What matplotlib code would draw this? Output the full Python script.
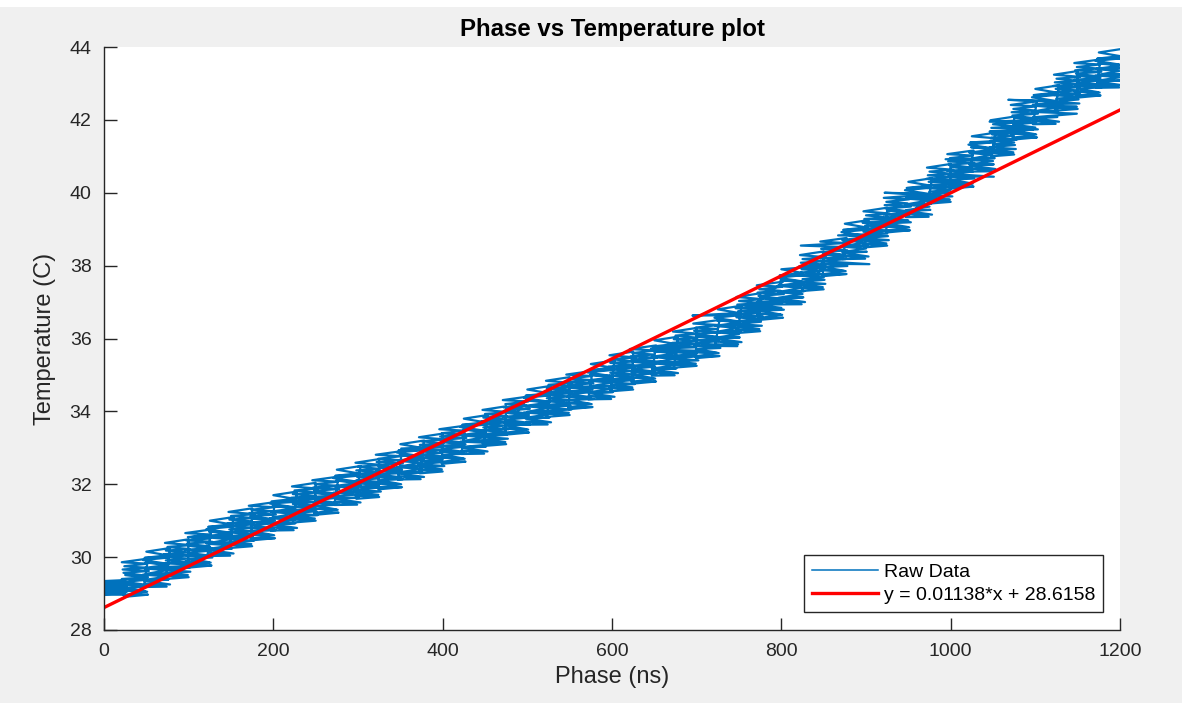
import numpy as np
import matplotlib
matplotlib.use("Agg")
import matplotlib.pyplot as plt
from matplotlib.patches import Rectangle

plt.rcParams['font.family'] = ['Liberation Sans', 'DejaVu Sans']

# Centre of each temperature step: phase (ns) and temperature (C)
step_phase = [12, 37, 62, 87, 112, 137, 162, 187, 212, 237, 262, 287,
              312, 337, 362, 387, 412, 437, 462, 487, 512, 537, 562, 587,
              612, 637, 662, 687, 712, 737, 762, 787, 812, 837, 862, 887,
              912, 937, 962, 987, 1012, 1037, 1062, 1087, 1112, 1137, 1162, 1187]
step_temp = [29.17, 29.45, 29.70, 29.95, 30.25, 30.55, 30.80, 31.00, 31.25, 31.50, 31.70, 31.95,
             32.15, 32.40, 32.65, 32.85, 33.10, 33.35, 33.60, 33.90, 34.15, 34.40, 34.60, 34.85,
             35.10, 35.30, 35.50, 35.75, 36.00, 36.35, 36.70, 37.05, 37.45, 37.85, 38.25, 38.70,
             39.05, 39.45, 39.85, 40.25, 40.65, 41.10, 41.55, 42.00, 42.40, 42.80, 43.15, 43.40]

# Sample sequences recorded within a step: phase jitter (ns), temperature drift (0.01 C)
block_phase = [
    [-14, 13, -15, 12, -13, 15, -16, 14, -12, 13, -15, 16, -14, 12, -13, 15, -16, 13, -14, 14, -12, 16, -15, 13],
    [-13, 15, -14, 14, -16, 12, -12, 16, -15, 13, -13, 14, -16, 15, -12, 13, -14, 16, -15, 12, -13, 14, -16, 15],
    [-15, 12, -13, 16, -14, 14, -15, 13, -16, 15, -12, 12, -14, 16, -15, 14, -13, 12, -16, 15, -14, 13, -12, 16],
]
block_temp = [
    [-55, -50, -46, -44, -38, -35, -30, -24, -22, -17, -12, -9, -4, 1, 5, 10, 13, 18, 23, 27, 33, 38, 44, 54],
    [-54, -48, -49, -40, -37, -39, -29, -26, -20, -21, -13, -7, -5, 0, 6, 4, 12, 17, 21, 26, 30, 37, 41, 51],
    [-52, -51, -43, -45, -35, -32, -33, -23, -18, -15, -16, -6, -1, 2, 0, 9, 15, 12, 22, 29, 28, 35, 45, 55],
]
# The first step of the record settles over a narrower range
first_block_temp = [-21, -19, -17, -18, -14, -12, -13, -9, -7, -8, -5, -3,
                    -2, 0, 1, 3, 5, 4, 8, 10, 12, 14, 17, 20]

# Outlying samples: (step, sample, phase jitter in ns)
spikes = [(3, 9, 30), (5, 14, -34), (8, 19, 28), (11, 6, -38), (13, 11, 31), (15, 16, -36),
          (17, 7, 33), (20, 0, -35), (21, 19, 29), (23, 8, -37), (25, 15, 32), (27, 12, -40),
          (28, 9, 36), (29, 20, -42), (30, 15, 38), (32, 0, -44), (32, 23, 40), (34, 9, 42),
          (34, 20, -39), (36, 8, -45), (36, 17, 37), (37, 23, 41), (38, 16, -40), (39, 4, -38),
          (39, 13, 36), (40, 9, 39), (41, 8, -43), (41, 21, 38), (42, 17, 35), (43, 12, -41),
          (44, 7, 37), (44, 16, -44), (45, 4, -40), (46, 9, 34), (47, 2, -30)]

# Linear fit coefficients
fit_slope = 0.01138
fit_intercept = 28.6158

x_ticks = [0, 200, 400, 600, 800, 1000, 1200]
y_ticks = [28, 30, 32, 34, 36, 38, 40, 42, 44]

# Assemble the raw sample sequence step by step
n_blk = len(block_phase)
jit = [np.array(block_phase[k % n_blk], float) for k in range(len(step_phase))]
for k, i, v in spikes:
    jit[k][i] = v
drift = [np.array(block_temp[k % n_blk], float) for k in range(len(step_temp))]
drift[0] = np.array(first_block_temp, float)
phase = np.concatenate([p + j for p, j in zip(step_phase, jit)])
temp = np.concatenate([t + d / 100.0 for t, d in zip(step_temp, drift)])

fig = plt.figure(figsize=(11.82, 7.03), dpi=100, facecolor='#f0f0f0')
fig.patches.append(Rectangle((0, 1 - 7 / 703), 1, 7 / 703, transform=fig.transFigure,
                             facecolor='white', edgecolor='none', zorder=0))
ax = fig.add_axes([104 / 1182, 73 / 703, 1016 / 1182, 583 / 703])

ink = '#262626'
raw_line, = ax.plot(phase, temp, color='#0072BD', lw=1.6, label='Raw Data')
fx = np.array([0.0, 1200.0])
fit_line, = ax.plot(fx, fit_slope * fx + fit_intercept, color='#ff0000', lw=2.4,
                    label='y = %.5f*x + %.4f' % (fit_slope, fit_intercept))

ax.set_xlim(0, 1200)
ax.set_ylim(28, 44)
ax.set_xticks(x_ticks)
ax.set_yticks(y_ticks)
ax.tick_params(direction='in', length=9, width=1.0, colors=ink, labelsize=14)
ax.tick_params(axis='x', pad=9)
ax.tick_params(axis='y', pad=9)
for side in ('top', 'right'):
    ax.spines[side].set_visible(False)
for side in ('left', 'bottom'):
    ax.spines[side].set_color(ink)
    ax.spines[side].set_linewidth(1.0)

ax.set_xlabel('Phase (ns)', fontsize=17, color=ink, labelpad=5)
ax.set_ylabel('Temperature (C)', fontsize=17, color=ink, labelpad=10)
ax.set_title('Phase vs Temperature plot', fontsize=17.3, fontweight='bold', color='black', pad=8)

leg = ax.legend(handles=[raw_line, fit_line], loc='lower right',
                bbox_to_anchor=(1 - 17 / 1016, 18 / 583), borderaxespad=0,
                fancybox=False, framealpha=1, edgecolor=ink, fontsize=14,
                handlelength=3.4, handletextpad=0.3, borderpad=0.4, labelspacing=0.3)
leg.get_frame().set_linewidth(1.0)
leg.get_lines()[0].set_linewidth(1.1)

fig.savefig('out.png', dpi=100, facecolor=fig.get_facecolor())
